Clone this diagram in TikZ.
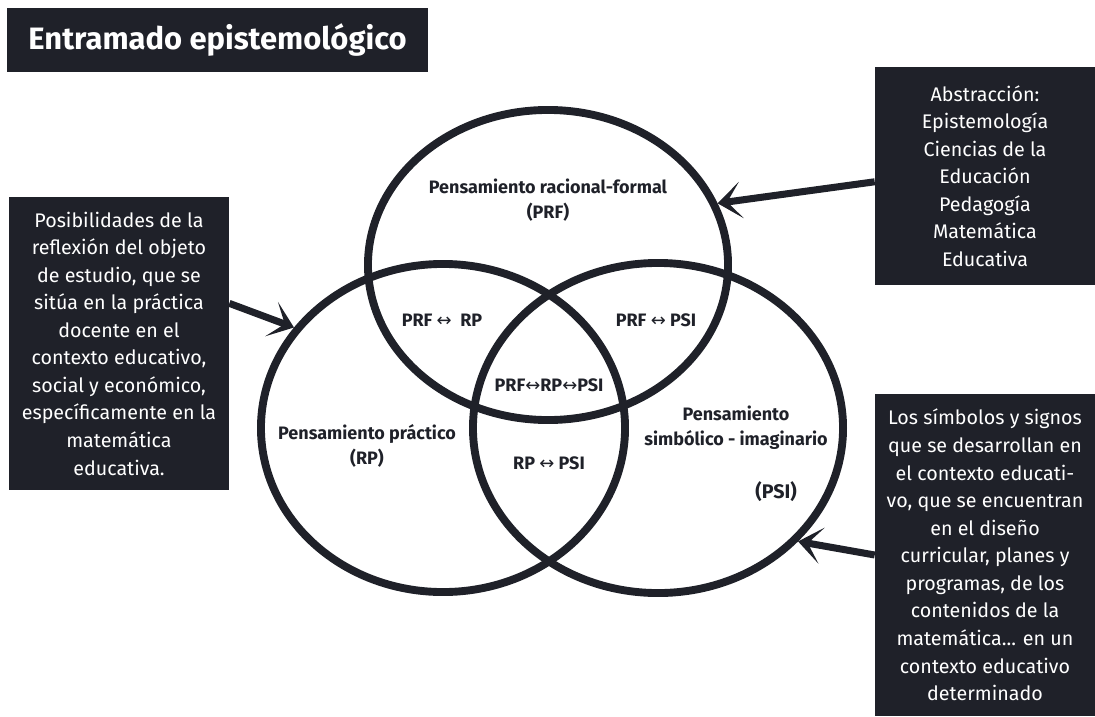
\documentclass[tikz,border=0pt]{standalone}
\usepackage{fontspec}
\setmainfont{Fira Sans}
\newfontfamily\flechas{DejaVu Sans}
\usetikzlibrary{shapes.geometric,arrows.meta}
\definecolor{tinta}{RGB}{31,33,41}
\newcommand{\ida}{{\flechas\mdseries ↔}}

\tikzset{
	caja/.style={fill=tinta,text=white,align=center,inner sep=0pt,font=\fontsize{14}{19.6}\selectfont},
	conj/.style={ellipse,draw=tinta,line width=5.6pt,inner sep=0pt},
	etiq/.style={text=tinta,align=center,font=\bfseries\fontsize{12.8}{18}\selectfont},
	flecha/.style={draw=tinta,line width=5pt,-{Stealth[length=17pt,width=26pt,inset=10pt]}}
}

\begin{document}
\begin{tikzpicture}[x=0.025cm,y=-0.025cm]

	\useasboundingbox (0,0) rectangle (1095,716);

	\node[caja,minimum width=10.525cm,minimum height=1.6cm,font=\bfseries\fontsize{22}{24}\selectfont] (titulo) at (217.5,40) {Entramado epistemológico};

	\node[conj,minimum width=9cm,minimum height=7.75cm] (prf) at (548,265) {};
	\node[conj,minimum width=9.1cm,minimum height=8.2cm] (rp) at (443,428) {};
	\node[conj,minimum width=9.25cm,minimum height=8.25cm] (psi) at (658,428) {};

	\node[etiq] (prflab) at (548,200) {Pensamiento racional-formal\\(PRF)};
	\node[etiq] (rplab) at (367,446) {Pensamiento práctico\\(RP)};
	\node[etiq] (psilab) at (736,428) {Pensamiento\\simbólico - imaginario};
	\node[etiq,font=\bfseries\fontsize{14}{18}\selectfont] (psisig) at (776,492) {(PSI)};

	\foreach \x/\y/\txt [count=\i] in {442/320/PRF \ida\ \ RP, 656/320/PRF \ida\ PSI, 549/385/PRF\ida RP\ida PSI, 549/463/RP \ida\ PSI} {
			\node[etiq] (rel\i) at (\x,\y) {\txt};
		}

	\node[caja,minimum width=5.5cm,minimum height=5.45cm] (abs) at (985,176) {Abstracción:\\Epistemología\\Ciencias de la\\Educación\\Pedagogía\\Matemática\\Educativa};

	\node[caja,minimum width=5.5cm,minimum height=7.325cm] (posib) at (119,343.5) {Posibilidades de la\\reflexión del objeto\\de estudio, que se\\sitúa en la práctica\\docente en el\\contexto educativo,\\social y económico,\\específicamente en la\\matemática\\educativa.};

	\node[caja,minimum width=5.5cm,minimum height=8.05cm] (simb) at (985,555) {Los símbolos y signos\\que se desarrollan en\\el contexto educati-\\vo, que se encuentran\\en el diseño\\curricular, planes y\\programas, de los\\contenidos de la\\matemática... en un\\contexto educativo\\determinado};

	\draw[flecha] (abs.183) -- (prf.20);
	\draw[flecha] (posib.20) -- (rp.146);
	\draw[flecha] (simb.west) -- (psi.-39);

\end{tikzpicture}
\end{document}
